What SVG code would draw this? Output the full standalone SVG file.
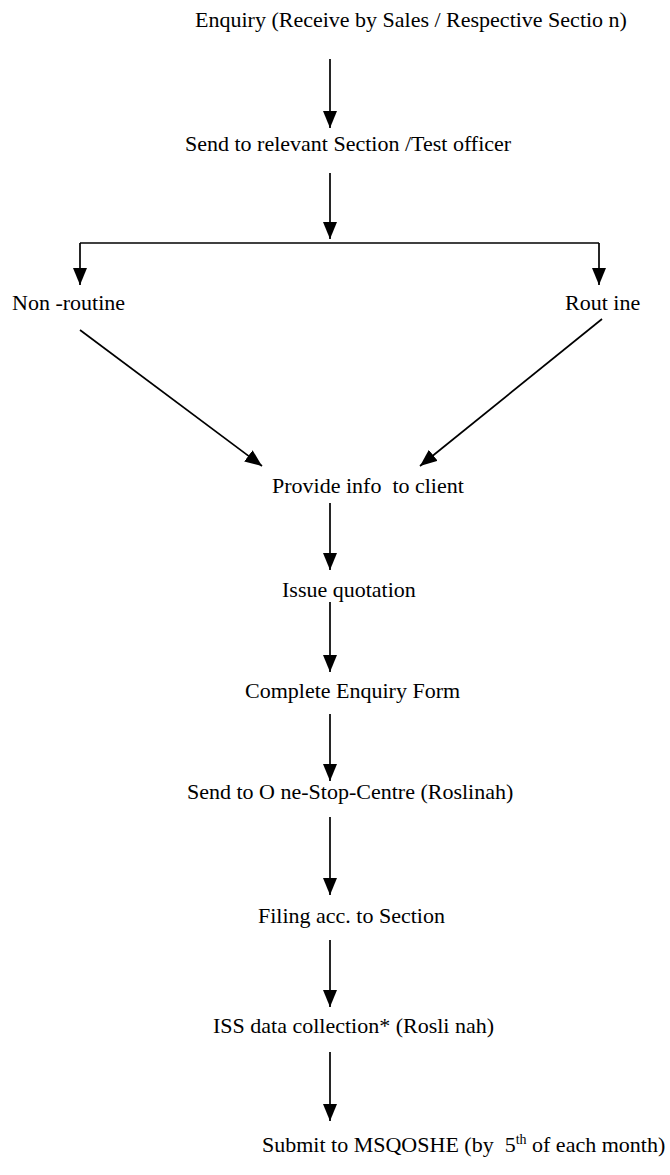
<svg xmlns="http://www.w3.org/2000/svg" width="670" height="1175" viewBox="0 0 670 1175">
<defs>
<marker id="ah" markerUnits="userSpaceOnUse" markerWidth="18" markerHeight="14" viewBox="0 0 18 14" refX="17" refY="7" orient="auto">
<path d="M0,0 L17,7 L0,14 Z" fill="#000"/>
</marker>
<style>
text{font-family:"Liberation Serif","Times New Roman",serif;font-size:22px;fill:#000;white-space:pre}
.c path{stroke:#000;stroke-width:1.7;fill:none}
</style>
</defs>
<rect width="670" height="1175" fill="#fff"/>
<g id="n1"><text x="195" y="27">Enquiry (Receive by Sales / Respective Sectio n)</text></g>
<g id="n2"><text x="185" y="151">Send to relevant Section /Test officer</text></g>
<g id="n3"><text x="12" y="310">Non -routine</text></g>
<g id="n4"><text x="565" y="310">Rout ine</text></g>
<g id="n5"><text x="272" y="493">Provide info  to client</text></g>
<g id="n6"><text x="282" y="597">Issue quotation</text></g>
<g id="n7"><text x="245" y="698">Complete Enquiry Form</text></g>
<g id="n8"><text x="187" y="799">Send to O ne-Stop-Centre (Roslinah)</text></g>
<g id="n9"><text x="258" y="923">Filing acc. to Section</text></g>
<g id="n10"><text x="213" y="1033">ISS data collection* (Rosli nah)</text></g>
<g id="n11"><text x="262" y="1152">Submit to MSQOSHE (by  5<tspan font-size="14" dy="-8">th</tspan><tspan dy="8"> of each month)</tspan></text></g>
<g class="c" id="connectors">
<path d="M330,59 V128" marker-end="url(#ah)"/>
<path d="M330,173 V239" marker-end="url(#ah)"/>
<path d="M80,243 H599"/>
<path d="M80,243 V285" marker-end="url(#ah)"/>
<path d="M599,243 V285" marker-end="url(#ah)"/>
<path d="M80,330 L262,466" marker-end="url(#ah)"/>
<path d="M602,319 L420,466" marker-end="url(#ah)"/>
<path d="M330,503 V570" marker-end="url(#ah)"/>
<path d="M330,602 V672" marker-end="url(#ah)"/>
<path d="M330,714 V781" marker-end="url(#ah)"/>
<path d="M330,817 V895" marker-end="url(#ah)"/>
<path d="M330,940 V1007" marker-end="url(#ah)"/>
<path d="M330,1052 V1121" marker-end="url(#ah)"/>
</g>
</svg>
